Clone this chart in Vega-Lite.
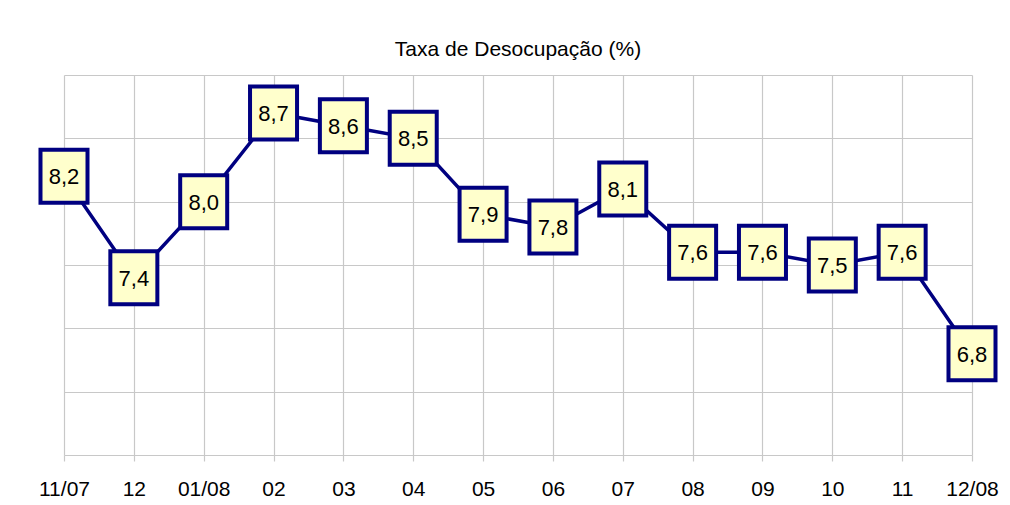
{
  "$schema": "https://vega.github.io/schema/vega-lite/v6.json",
  "autosize": {"type": "none"},
  "width": 908,
  "height": 380,
  "padding": {"left": 64, "top": 75, "right": 38, "bottom": 50},
  "background": "white",
  "config": {
    "locale": {"number": {"decimal": ",", "thousands": ".", "grouping": [3], "currency": ["R$", ""]}},
    "view": {"stroke": null},
    "font": "Liberation Sans"
  },
  "title": {
    "text": "Taxa de Desocupação (%)",
    "font": "Liberation Sans",
    "fontSize": 21,
    "fontWeight": "normal",
    "color": "black",
    "anchor": "middle",
    "baseline": "alphabetic",
    "offset": 18,
    "dy": 20
  },
  "data": {
    "values": [
      {"mes": "11/07", "taxa": 8.2},
      {"mes": "12", "taxa": 7.4},
      {"mes": "01/08", "taxa": 8.0},
      {"mes": "02", "taxa": 8.7},
      {"mes": "03", "taxa": 8.6},
      {"mes": "04", "taxa": 8.5},
      {"mes": "05", "taxa": 7.9},
      {"mes": "06", "taxa": 7.8},
      {"mes": "07", "taxa": 8.1},
      {"mes": "08", "taxa": 7.6},
      {"mes": "09", "taxa": 7.6},
      {"mes": "10", "taxa": 7.5},
      {"mes": "11", "taxa": 7.6},
      {"mes": "12/08", "taxa": 6.8}
    ]
  },
  "encoding": {
    "x": {
      "field": "mes",
      "type": "ordinal",
      "sort": null,
      "scale": {"type": "point", "padding": 0},
      "axis": {
        "title": null,
        "labelAngle": 0,
        "labelFontSize": 21,
        "labelFont": "Liberation Sans",
        "labelColor": "black",
        "labelPadding": 17,
        "grid": true,
        "gridColor": "#c8c8c8",
        "gridWidth": 1.2,
        "gridOpacity": 1,
        "domain": false,
        "ticks": true,
        "tickColor": "#c8c8c8",
        "tickSize": 6,
        "tickWidth": 1.2
      }
    },
    "y": {
      "field": "taxa",
      "type": "quantitative",
      "scale": {"domain": [6, 9], "nice": false, "zero": false},
      "axis": {
        "title": null,
        "labels": false,
        "ticks": false,
        "domain": false,
        "values": [6, 6.5, 7, 7.5, 8, 8.5, 9],
        "grid": true,
        "gridColor": "#c8c8c8",
        "gridWidth": 1.2,
        "gridOpacity": 1
      }
    }
  },
  "layer": [
    {"mark": {"type": "line", "color": "#000080", "strokeWidth": 3.5}},
    {
      "mark": {
        "type": "point",
        "shape": "M-0.887,-1H0.887V1H-0.887Z",
        "size": 2809,
        "filled": true,
        "fill": "#ffffcc",
        "stroke": "#000080",
        "strokeWidth": 4,
        "opacity": 1
      }
    },
    {
      "mark": {
        "type": "text",
        "font": "Liberation Sans",
        "fontSize": 22,
        "color": "black",
        "baseline": "middle",
        "align": "center",
        "dy": 1
      },
      "encoding": {"text": {"field": "taxa", "type": "quantitative", "format": ".1f"}}
    }
  ]
}
